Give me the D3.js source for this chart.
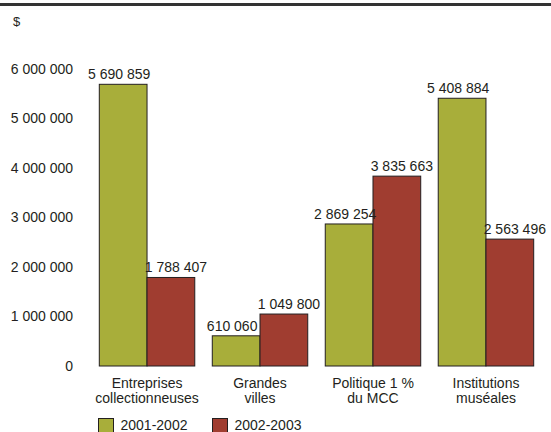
<!DOCTYPE html>
<html><head><meta charset="utf-8">
<script src="https://cdn.jsdelivr.net/npm/d3@7"></script>
<style>
body{margin:0;background:#fff;}
text{font-family:"Liberation Sans Narrow","Arial Narrow","Liberation Sans",sans-serif;fill:#231f20;}
</style></head><body>
<svg id="c" width="551" height="432"></svg>
<script>
const categories = [["Entreprises","collectionneuses"],["Grandes","villes"],["Politique 1 %","du MCC"],["Institutions","muséales"]];
const seriesNames = ["2001-2002","2002-2003"];
const values2001 = [5690859, 610060, 2869254, 5408884];
const values2002 = [1788407, 1049800, 3835663, 2563496];
const yTicks = [0,1000000,2000000,3000000,4000000,5000000,6000000];
const colors = ["#a8ae3a","#a03d30"];

const svg = d3.select("#c");
const fmt = v => d3.format(",")(v).replace(/,/g," ");

svg.append("rect").attr("x",0).attr("y",3).attr("width",551).attr("height",3).attr("fill","#333");
svg.append("text").attr("x",13).attr("y",26).attr("font-size",13).text("$");

const y = d3.scaleLinear().domain([0,6000000]).range([366,69]);
const x0 = d3.scaleBand().domain(d3.range(categories.length)).range([99.3,533.7]).paddingInner(0.155).paddingOuter(0);
const x1 = d3.scaleBand().domain([0,1]).range([0,x0.bandwidth()]);

const yAxis = svg.append("g").attr("transform","translate(73,0)")
  .call(d3.axisLeft(y).tickValues(yTicks).tickFormat(fmt).tickSize(0).tickPadding(0));
yAxis.select(".domain").remove();
yAxis.selectAll("text").attr("font-size",14).attr("font-family",null).attr("fill","#231f20").attr("dy","0.3em");

const data = categories.map((c,i)=>({i, vals:[values2001[i], values2002[i]]}));
const g = svg.append("g").selectAll("g").data(data).join("g")
  .attr("transform",d=>`translate(${x0(d.i)},0)`);
g.selectAll("rect").data(d=>d.vals.map((v,k)=>({v,k}))).join("rect")
  .attr("x",d=>x1(d.k)).attr("width",x1.bandwidth())
  .attr("y",d=>y(d.v)).attr("height",d=>y(0)-y(d.v))
  .attr("fill",d=>colors[d.k]).attr("stroke","#231f20").attr("stroke-width",1);
const nudge = [-4, 5];
g.selectAll("text.v").data(d=>d.vals.map((v,k)=>({v,k}))).join("text").attr("class","v")
  .attr("x",d=>x1(d.k)+x1.bandwidth()/2+nudge[d.k]).attr("y",d=>y(d.v)-5)
  .attr("text-anchor","middle").attr("font-size",14).text(d=>fmt(d.v));

const xAxis = svg.append("g").attr("transform","translate(0,366)")
  .call(d3.axisBottom(x0).tickSize(0).tickFormat(()=>""));
xAxis.select(".domain").remove();
xAxis.selectAll(".tick text").remove();
xAxis.selectAll(".tick").each(function(d){
  const t = d3.select(this);
  categories[d].forEach((line,j)=>t.append("text").attr("text-anchor","middle").attr("font-size",14)
    .attr("x",0).attr("y",22+j*15).text(line));
});

const leg = svg.append("g");
seriesNames.forEach((s,k)=>{
  const lx = 98.5 + k*114;
  leg.append("rect").attr("x",lx).attr("y",418.5).attr("width",15).attr("height",14)
    .attr("fill",colors[k]).attr("stroke","#231f20");
  leg.append("text").attr("x",lx+22).attr("y",430).attr("font-size",14).text(s);
});
</script></body></html>
